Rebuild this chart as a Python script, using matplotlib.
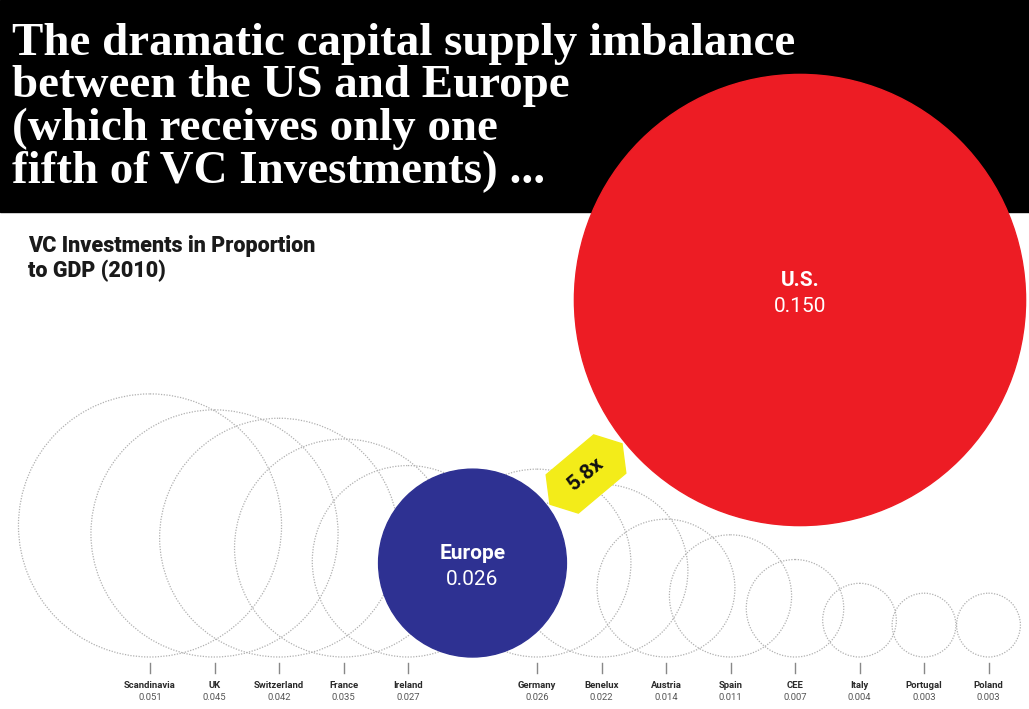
import numpy as np
import matplotlib
matplotlib.use('Agg')
import matplotlib.pyplot as plt
from matplotlib.patches import Circle, Rectangle, Polygon

# data
countries = ['Scandinavia', 'UK', 'Switzerland', 'France', 'Ireland',
             'Germany', 'Benelux', 'Austria', 'Spain', 'CEE', 'Italy', 'Portugal', 'Poland']
values = [0.051, 0.045, 0.042, 0.035, 0.027,
          0.026, 0.022, 0.014, 0.011, 0.007, 0.004, 0.003, 0.003]
europe_value = 0.026
us_value = 0.150
ratio_label = '5.8x'

title_lines = ['The dramatic capital supply imbalance',
               'between the US and Europe',
               '(which receives only one',
               'fifth of VC Investments) ...']
subtitle_lines = ['VC Investments in Proportion', 'to GDP (2010)']

W, H = 1029, 709
fig = plt.figure(figsize=(W / 100, H / 100), dpi=100)
ax = fig.add_axes([0, 0, 1, 1])
ax.set_xlim(0, W)
ax.set_ylim(H, 0)
ax.set_aspect('equal')
ax.axis('off')

scale = 1165.0  # diameter in px = scale * sqrt(value)
base_y = 657
x0, step = 150, 64.5
europe_slot = 5


def diam(v):
    return scale * np.sqrt(v)


# header band
ax.add_patch(Rectangle((0, 0), W, 212, color='black', zorder=0))

# dotted country circles
slots = [i if i < europe_slot else i + 1 for i in range(len(countries))]
for name, v, s in zip(countries, values, slots):
    cx = x0 + step * s
    r = diam(v) / 2
    ax.add_patch(Circle((cx, base_y - r), r, fill=False, ec='#b0b0b0',
                        lw=0.9, ls=(0, (1, 1.2)), zorder=2))
    ax.plot([cx, cx], [663, 673], color='#888888', lw=1, zorder=2)
    ax.text(cx, 686, name, ha='center', va='center', fontsize=6.8,
            fontweight='bold', color='#2a2a2a', family='Roboto')
    ax.text(cx, 697.5, f'{v:.3f}', ha='center', va='center', fontsize=6.8,
            color='#555555', family='Roboto')

# Europe circle
ex = x0 + step * europe_slot
er = diam(europe_value) / 2
ax.add_patch(Circle((ex, base_y - er), er, color='#2E3192', zorder=4))
ax.text(ex, base_y - er - 10, 'Europe', ha='center', va='center', color='white',
        fontsize=15, fontweight='bold', family='Roboto', zorder=5)
ax.text(ex, base_y - er + 16, f'{europe_value:.3f}', ha='center', va='center',
        color='white', fontsize=15, family='Roboto', zorder=5)

# US circle
ur = diam(us_value) / 2
ux, uy = 800, 300
ax.add_patch(Circle((ux, uy), ur, color='#ED1C24', zorder=4))
ax.text(ux, uy - 19, 'U.S.', ha='center', va='center', color='white',
        fontsize=15, fontweight='bold', family='Roboto', zorder=5)
ax.text(ux, uy + 6, f'{us_value:.3f}', ha='center', va='center', color='white',
        fontsize=15, family='Roboto', zorder=5)

# yellow ratio badge
bx, by = 586, 474
ang = np.deg2rad(40)
L, Wd, c = 94, 50, 16
local = np.array([[-L / 2, 0], [-L / 2 + c, Wd / 2], [L / 2 - c, Wd / 2],
                  [L / 2, 0], [L / 2 - c, -Wd / 2], [-L / 2 + c, -Wd / 2]])
u = np.array([np.cos(ang), -np.sin(ang)])
n = np.array([np.sin(ang), np.cos(ang)])
pts = np.array([[bx, by] + p[0] * u + p[1] * n for p in local])
ax.add_patch(Polygon(pts, closed=True, color='#F3EC19', zorder=6))
ax.text(bx, by, ratio_label, ha='center', va='center', rotation=40,
        fontsize=15, fontweight='bold', family='Roboto', color='#111111', zorder=7)

# title, fitted to the reference width
title_y = [55, 97, 140, 183]
title_font = dict(color='white', family='Liberation Serif', fontweight='bold',
                  va='baseline', zorder=3)
fig.canvas.draw()
renderer = fig.canvas.get_renderer()
t0 = ax.text(12, title_y[0], title_lines[0], fontsize=40, **title_font)
w0 = t0.get_window_extent(renderer).width
fs = 40 * 783 / w0
t0.set_fontsize(fs)
for line, y in zip(title_lines[1:], title_y[1:]):
    ax.text(12, y, line, fontsize=fs, **title_font)

# subtitle
for line, y in zip(subtitle_lines, [252, 277]):
    ax.text(28, y, line, fontsize=15.5, fontweight='heavy', family='Roboto',
            color='#1a1a1a', va='baseline')

fig.savefig('out.png', dpi=100)
